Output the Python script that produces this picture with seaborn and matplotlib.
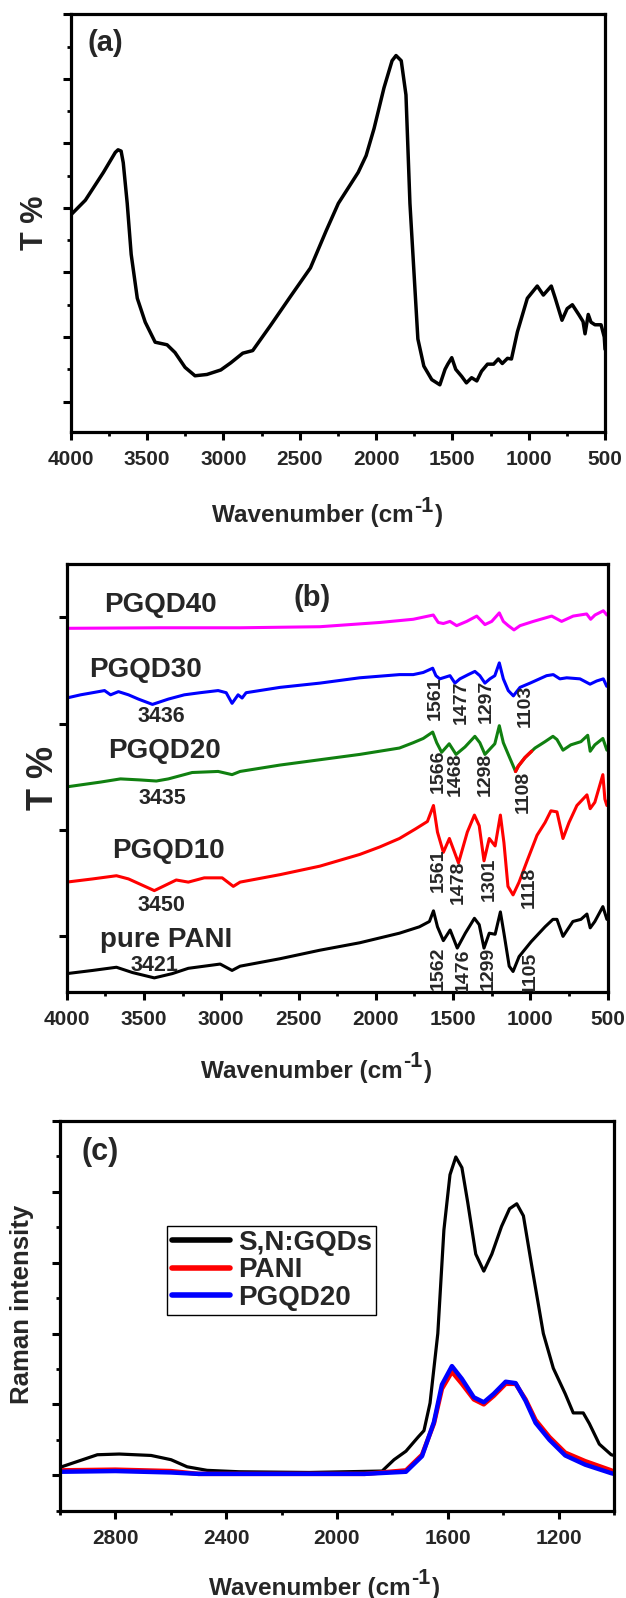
import numpy as np
import pandas as pd
import matplotlib
matplotlib.use("Agg")
import matplotlib.pyplot as plt
from matplotlib.ticker import MultipleLocator, NullLocator, FixedLocator
import seaborn as sns

# ---------------- data ----------------
# (a) FTIR of S,N:GQDs
a_wn = [4000, 3904, 3786, 3708, 3690, 3670, 3656, 3630, 3604, 3564, 3512, 3447, 3369, 3317, 3251, 3186,
        3108, 3017, 2952, 2873, 2808, 2691, 2560, 2430, 2326, 2247, 2117, 2065, 2013, 1948, 1895, 1869,
        1835, 1804, 1778, 1752, 1726, 1687, 1635, 1582, 1548, 1530, 1504, 1478, 1439, 1408, 1374, 1340,
        1309, 1270, 1230, 1199, 1173, 1139, 1113, 1074, 1009, 944, 904, 852, 826, 782, 748, 714, 670,
        644, 631, 610, 592, 566, 526, 505, 500]
a_t = [2.89, 3.12, 3.55, 3.86, 3.90, 3.88, 3.70, 3.07, 2.28, 1.60, 1.23, 0.92, 0.88, 0.76, 0.53, 0.40,
       0.42, 0.49, 0.60, 0.75, 0.79, 1.18, 1.63, 2.07, 2.65, 3.07, 3.55, 3.81, 4.23, 4.86, 5.28, 5.36,
       5.28, 4.75, 3.07, 2.02, 0.97, 0.55, 0.34, 0.26, 0.50, 0.58, 0.68, 0.50, 0.39, 0.29, 0.37, 0.32,
       0.47, 0.58, 0.58, 0.66, 0.59, 0.67, 0.66, 1.08, 1.60, 1.79, 1.65, 1.79, 1.60, 1.26, 1.44, 1.50, 1.34,
       1.24, 1.05, 1.35, 1.23, 1.19, 1.19, 1.00, 0.81]

# (b) FTIR of PANI and composites (offset traces)
b40_wn = [4000, 3394, 2878, 2362, 1973, 1758, 1628, 1596, 1563, 1520, 1477, 1412, 1347, 1294, 1250, 1201,
          1175, 1143, 1106, 1067, 981, 862, 798, 723, 636, 610, 582, 528, 505]
b40_t = [2.895, 2.90, 2.90, 2.91, 2.95, 2.98, 3.02, 2.95, 2.94, 2.96, 2.92, 2.96, 3.01, 2.93, 2.96, 3.04,
         2.96, 2.92, 2.88, 2.92, 2.96, 3.01, 2.96, 3.01, 3.03, 2.98, 3.02, 3.06, 3.02]

b30_wn = [4000, 3910, 3832, 3755, 3716, 3665, 3600, 3536, 3445, 3342, 3239, 3136, 3020, 2968, 2930, 2891,
          2865, 2839, 2620, 2362, 2104, 1847, 1758, 1693, 1632, 1611, 1586, 1520, 1488, 1456, 1402, 1359,
          1327, 1294, 1262, 1230, 1201, 1175, 1143, 1110, 1067, 1002, 895, 852, 809, 765, 679, 614, 571,
          528, 506]
b30_t = [2.24, 2.27, 2.29, 2.31, 2.27, 2.30, 2.27, 2.23, 2.18, 2.23, 2.27, 2.29, 2.31, 2.29, 2.19, 2.27,
         2.24, 2.29, 2.34, 2.38, 2.43, 2.46, 2.46, 2.48, 2.52, 2.45, 2.42, 2.45, 2.38, 2.42, 2.46, 2.49,
         2.45, 2.38, 2.42, 2.45, 2.57, 2.42, 2.31, 2.26, 2.34, 2.38, 2.45, 2.46, 2.42, 2.43, 2.42, 2.37, 2.40,
         2.42, 2.35]

b20_wn = [4000, 3781, 3652, 3523, 3420, 3342, 3188, 3020, 2930, 2878, 2620, 2362, 2104, 1847, 1758, 1693,
          1632, 1606, 1574, 1525, 1481, 1423, 1359, 1327, 1294, 1262, 1230, 1201, 1175, 1143, 1096, 1078,
          1035, 992, 970, 905, 854, 828, 789, 738, 673, 629, 613, 583, 531, 505]
b20_t = [1.405, 1.45, 1.48, 1.47, 1.46, 1.48, 1.54, 1.55, 1.52, 1.55, 1.61, 1.66, 1.71, 1.77, 1.82, 1.86,
         1.92, 1.82, 1.73, 1.81, 1.71, 1.78, 1.88, 1.82, 1.71, 1.76, 1.81, 1.98, 1.82, 1.71, 1.55, 1.60,
         1.68, 1.74, 1.77, 1.83, 1.88, 1.85, 1.75, 1.80, 1.83, 1.89, 1.74, 1.80, 1.86, 1.75]
b20_red_range = [1096, 990]   # short stretch of the PGQD20 trace drawn in red

b10_wn = [4000, 3832, 3678, 3600, 3433, 3291, 3213, 3110, 2994, 2922, 2878, 2620, 2362, 2104, 1975, 1847,
          1743, 1666, 1627, 1601, 1563, 1524, 1465, 1408, 1362, 1331, 1300, 1266, 1228, 1194, 1171, 1145,
          1112, 1073, 1021, 957, 905, 867, 828, 789, 750, 699, 634, 613, 583, 557, 531, 518, 505]
b10_t = [0.51, 0.54, 0.57, 0.54, 0.43, 0.53, 0.51, 0.55, 0.55, 0.47, 0.51, 0.58, 0.66, 0.77, 0.84, 0.92,
         1.01, 1.08, 1.23, 0.98, 0.79, 0.92, 0.69, 0.98, 1.14, 1.04, 0.71, 0.92, 0.85, 1.14, 0.88, 0.47,
         0.39, 0.51, 0.71, 0.95, 1.07, 1.18, 1.17, 0.92, 1.07, 1.23, 1.33, 1.20, 1.26, 1.39, 1.52, 1.29, 1.23]

b0_wn = [4000, 3832, 3678, 3574, 3433, 3317, 3213, 3110, 3007, 2930, 2878, 2620, 2362, 2104, 1847, 1718,
         1653, 1627, 1601, 1563, 1519, 1473, 1421, 1362, 1331, 1300, 1266, 1228, 1194, 1171, 1137, 1112,
         1073, 995, 905, 854, 828, 789, 725, 673, 634, 613, 583, 531, 505]
b0_t = [-0.35, -0.32, -0.29, -0.34, -0.39, -0.35, -0.30, -0.28, -0.26, -0.32, -0.28, -0.21, -0.13, -0.06,
        0.03, 0.09, 0.14, 0.24, 0.09, -0.04, 0.06, -0.11, 0.03, 0.17, 0.11, -0.11, 0.03, 0.02, 0.23, 0.03,
        -0.28, -0.33, -0.19, -0.05, 0.09, 0.16, 0.16, 0.00, 0.14, 0.16, 0.21, 0.08, 0.14, 0.28, 0.16]

b_names = ["PGQD40", "PGQD30", "PGQD20", "PGQD10", "pure PANI"]
b_colors = ["#FF00FF", "#0000FF", "#108010", "#FF0000", "#000000"]
b_peak3400 = ["3436", "3435", "3450", "3421"]
b_peaks30 = ["1561", "1477", "1297", "1103"]
b_peaks20 = ["1566", "1468", "1298", "1108"]
b_peaks10 = ["1561", "1478", "1301", "1118"]
b_peaks0 = ["1562", "1476", "1299", "1105"]

# (c) Raman
c_wn_gqd = [3000, 2994, 2865, 2786, 2671, 2599, 2541, 2469, 2354, 2100, 1837, 1794, 1751, 1707, 1686, 1664,
            1636, 1614, 1592, 1571, 1549, 1528, 1499, 1470, 1441, 1406, 1377, 1351, 1327, 1298, 1255,
            1219, 1176, 1147, 1111, 1089, 1053, 1010, 1000]
c_int_gqd = [0.10, 0.12, 0.29, 0.30, 0.28, 0.22, 0.12, 0.07, 0.05, 0.04, 0.06, 0.22, 0.34, 0.54, 0.63, 1.02,
             2.00, 3.46, 4.24, 4.49, 4.34, 3.85, 3.12, 2.88, 3.12, 3.51, 3.76, 3.83, 3.66, 2.98, 2.00,
             1.51, 1.15, 0.88, 0.88, 0.73, 0.44, 0.29, 0.28]
c_wn_pani = [3000, 2800, 2600, 2500, 2200, 1900, 1751, 1693, 1650, 1621, 1585, 1549, 1506, 1470, 1434,
             1391, 1355, 1319, 1283, 1233, 1176, 1104, 1010, 1000]
c_int_pani = [0.07, 0.08, 0.06, 0.02, 0.02, 0.02, 0.07, 0.29, 0.73, 1.22, 1.46, 1.29, 1.07, 1.00, 1.12,
              1.29, 1.29, 1.07, 0.78, 0.54, 0.32, 0.20, 0.07, 0.05]
c_wn_pg20 = [3000, 2800, 2600, 2500, 2200, 1900, 1751, 1693, 1650, 1621, 1585, 1549, 1506, 1470, 1434,
             1391, 1355, 1319, 1283, 1233, 1176, 1104, 1010, 1000]
c_int_pg20 = [0.05, 0.06, 0.04, 0.02, 0.02, 0.02, 0.05, 0.27, 0.75, 1.28, 1.54, 1.36, 1.10, 1.03, 1.15,
              1.32, 1.30, 1.05, 0.74, 0.50, 0.28, 0.15, 0.03, 0.02]
c_names = ["S,N:GQDs", "PANI", "PGQD20"]
c_colors = ["#000000", "#FF0000", "#0000FF"]

# ---------------- style ----------------
sns.set_theme(style="ticks")
plt.rcParams["font.family"] = ["Liberation Sans", "DejaVu Sans"]
plt.rcParams["font.weight"] = "bold"
plt.rcParams["axes.labelweight"] = "bold"

fig = plt.figure(figsize=(6.26, 15.98), dpi=100)
ax_a = fig.add_axes([0.113, 0.7297, 0.8535, 0.2614])
ax_b = fig.add_axes([0.1065, 0.3794, 0.8642, 0.2677])
ax_c = fig.add_axes([0.0958, 0.0546, 0.885, 0.2440])


def style_axes(ax):
    for s in ax.spines.values():
        s.set_linewidth(2.3)
        s.set_color("black")
    ax.tick_params(which="both", direction="out", top=False, right=False, color="black")
    ax.tick_params(which="major", length=6, width=2.2, labelsize=15, pad=7)
    ax.tick_params(which="minor", length=3, width=2.0)
    ax.tick_params(axis="y", labelleft=False)
    for lab in ax.get_xticklabels():
        lab.set_fontweight("bold")


def wavenumber_label(ax, left_frac, drop_px):
    """x-axis title 'Wavenumber (cm-1)' with a large raised superscript."""
    t1 = ax.annotate("Wavenumber (cm", xy=(left_frac, 0), xycoords="axes fraction",
                     xytext=(0, -drop_px * 0.72), textcoords="offset points",
                     ha="left", va="baseline", fontsize=17.5, fontweight="bold")
    t2 = ax.annotate("-1", xy=(1, 1), xycoords=t1, xytext=(0.5, 6), textcoords="offset points",
                     ha="left", va="top", fontsize=15.5, fontweight="bold")
    ax.annotate(")", xy=(1, 0), xycoords=(t2, t1), xytext=(1.0, 0), textcoords="offset points",
                ha="left", va="bottom", fontsize=17.5, fontweight="bold")


# ---------------- (a) ----------------
df_a = pd.DataFrame({"wn": a_wn, "T": a_t})
sns.lineplot(data=df_a, x="wn", y="T", ax=ax_a, color="black", lw=2.5, sort=False, estimator=None)
ax_a.set_xlim(4000, 500)
ax_a.set_ylim(-0.47, 6.0)
ax_a.xaxis.set_major_locator(MultipleLocator(500))
ax_a.xaxis.set_minor_locator(MultipleLocator(250))
ax_a.yaxis.set_major_locator(MultipleLocator(1))
ax_a.yaxis.set_minor_locator(MultipleLocator(0.5))
style_axes(ax_a)
ax_a.set_xlabel("")
wavenumber_label(ax_a, 0.264, 90)
ax_a.set_ylabel("T %", fontsize=22, fontweight="bold")
ax_a.yaxis.set_label_coords(-0.038, 0.5)
ax_a.text(0.064, 0.931, "(a)", transform=ax_a.transAxes, fontsize=21, fontweight="bold",
          ha="center", va="center")

# ---------------- (b) ----------------
b_series = [(b40_wn, b40_t), (b30_wn, b30_t), (b20_wn, b20_t), (b10_wn, b10_t), (b0_wn, b0_t)]
for (wn, t), name, col in zip(b_series, b_names, b_colors):
    sns.lineplot(x=wn, y=t, ax=ax_b, color=col, lw=2.2, sort=False, estimator=None)
# red stretch on the PGQD20 trace
wn20 = np.array(b20_wn)
t20 = np.array(b20_t)
m = (wn20 <= b20_red_range[0]) & (wn20 >= b20_red_range[1])
sns.lineplot(x=wn20[m], y=t20[m], ax=ax_b, color="#FF0000", lw=2.4, sort=False, estimator=None)

ax_b.set_xlim(4000, 500)
ax_b.set_ylim(-0.52, 3.5)
ax_b.xaxis.set_major_locator(MultipleLocator(500))
ax_b.xaxis.set_minor_locator(MultipleLocator(250))
ax_b.yaxis.set_major_locator(FixedLocator([0, 1, 2, 3]))
ax_b.yaxis.set_minor_locator(NullLocator())
style_axes(ax_b)
ax_b.set_xlabel("")
wavenumber_label(ax_b, 0.248, 86)
ax_b.set_ylabel("T %", fontsize=26, fontweight="bold")
ax_b.yaxis.set_label_coords(-0.01, 0.5)
ax_b.text(0.453, 0.921, "(b)", transform=ax_b.transAxes, fontsize=21, fontweight="bold",
          ha="center", va="center")

name_pos = [(3394, 3.11), (3492, 2.50), (3368, 1.74), (3342, 0.80), (3355, -0.03)]
for (x, y), name in zip(name_pos, b_names):
    ax_b.text(x, y, name, fontsize=20, fontweight="bold", ha="center", va="center")
pk_pos = [(3386, 2.07), (3381, 1.30), (3389, 0.29), (3433, -0.27)]
for (x, y), lab in zip(pk_pos, b_peak3400):
    ax_b.text(x, y, lab, fontsize=15.5, fontweight="bold", ha="center", va="center")

rows = [
    (b_peaks30, [1617, 1445, 1283, 1035], [2.24, 2.20, 2.21, 2.17]),
    (b_peaks20, [1596, 1486, 1292, 1047], [1.55, 1.52, 1.52, 1.36]),
    (b_peaks10, [1596, 1467, 1266, 1008], [0.62, 0.51, 0.54, 0.46]),
    (b_peaks0, [1596, 1434, 1274, 1000], [-0.30, -0.32, -0.30, -0.34]),
]
for labs, xs, ys in rows:
    for lab, x, y in zip(labs, xs, ys):
        ax_b.text(x, y, lab, fontsize=14, fontweight="bold", rotation=90,
                  ha="center", va="center", clip_on=True)

# ---------------- (c) ----------------
c_series = [(c_wn_gqd, c_int_gqd), (c_wn_pani, c_int_pani), (c_wn_pg20, c_int_pg20)]
c_lw = [2.3, 3.2, 3.2]
for (wn, it), name, col, lw in zip(c_series, c_names, c_colors, c_lw):
    sns.lineplot(x=wn, y=it, ax=ax_c, color=col, lw=lw, sort=False, estimator=None, label=name)
ax_c.set_xlim(3000, 1000)
ax_c.set_ylim(-0.5, 5.0)
ax_c.xaxis.set_major_locator(FixedLocator([2800, 2400, 2000, 1600, 1200]))
ax_c.xaxis.set_minor_locator(MultipleLocator(200))
ax_c.yaxis.set_major_locator(MultipleLocator(1))
ax_c.yaxis.set_minor_locator(MultipleLocator(0.5))
style_axes(ax_c)
ax_c.set_xlabel("")
wavenumber_label(ax_c, 0.269, 84)
ax_c.set_ylabel("Raman intensity", fontsize=18.5, fontweight="bold")
ax_c.yaxis.set_label_coords(-0.047, 0.53)
ax_c.text(0.072, 0.921, "(c)", transform=ax_c.transAxes, fontsize=22, fontweight="bold",
          ha="center", va="center")
leg = ax_c.legend(loc="upper left", bbox_to_anchor=(0.194, 0.731), borderaxespad=0,
                  frameon=True, fancybox=False, framealpha=1, edgecolor="black",
                  prop={"weight": "bold", "size": 20}, handlelength=2.1, handletextpad=0.3,
                  labelspacing=0.05, borderpad=0.15)
leg.get_frame().set_linewidth(1.0)
for ln in leg.get_lines():
    ln.set_linewidth(4)

fig.savefig("out.png", dpi=100)
